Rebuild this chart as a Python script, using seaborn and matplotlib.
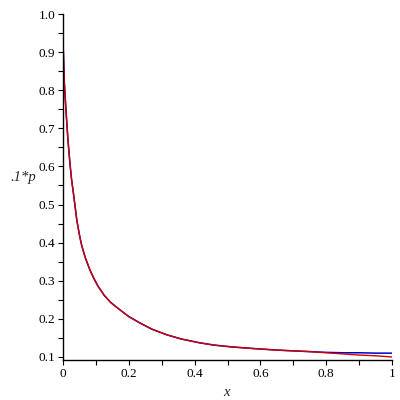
import numpy as np
import pandas as pd
import matplotlib
matplotlib.use("Agg")
import matplotlib.pyplot as plt
import seaborn as sns

# values
x_vals = [0.000, 0.004, 0.009, 0.015, 0.021, 0.026, 0.033, 0.042, 0.050, 0.057,
          0.068, 0.082, 0.095, 0.107, 0.125, 0.145, 0.168, 0.200, 0.234, 0.270,
          0.316, 0.360, 0.416, 0.460, 0.517, 0.580, 0.650, 0.700, 0.750, 0.800,
          0.850, 0.900, 0.950, 1.000]
blue_vals = [0.930, 0.820, 0.748, 0.670, 0.609, 0.566, 0.521, 0.459, 0.420, 0.392,
             0.360, 0.328, 0.304, 0.285, 0.262, 0.243, 0.227, 0.206, 0.189, 0.173,
             0.158, 0.147, 0.137, 0.131, 0.126, 0.122, 0.118, 0.116, 0.114, 0.112,
             0.111, 0.111, 0.110, 0.110]
red_vals = [0.930, 0.820, 0.748, 0.670, 0.609, 0.566, 0.521, 0.459, 0.420, 0.392,
            0.360, 0.328, 0.304, 0.285, 0.262, 0.243, 0.227, 0.206, 0.189, 0.173,
            0.158, 0.147, 0.137, 0.131, 0.126, 0.122, 0.118, 0.116, 0.114, 0.111,
            0.108, 0.105, 0.103, 0.100]

x_ticks = [0, 0.2, 0.4, 0.6, 0.8, 1.0]
x_ticklabels = ["0", "0.2", "0.4", "0.6", "0.8", "1"]
y_ticks = [0.1, 0.2, 0.3, 0.4, 0.5, 0.6, 0.7, 0.8, 0.9, 1.0]
y_ticklabels = ["0.1", "0.2", "0.3", "0.4", "0.5", "0.6", "0.7", "0.8", "0.9", "1.0"]

df = pd.DataFrame({"x": x_vals, "blue": blue_vals, "red": red_vals})

sns.set_style("ticks")
plt.rcParams['font.family'] = ['Liberation Serif', 'DejaVu Serif']

fig = plt.figure(figsize=(4, 4), dpi=100)
ax = fig.add_axes([0.1575, 0.10, 0.8225, 0.865])

sns.lineplot(data=df, x="x", y="blue", ax=ax, color="#0000c8", linewidth=1.1)
sns.lineplot(data=df, x="x", y="red", ax=ax, color="#d00000", linewidth=1.0)

ax.set_xlim(0, 1)
ax.set_ylim(0.092, 1.0)
ax.set_xticks(x_ticks)
ax.set_xticklabels(x_ticklabels)
ax.set_yticks(y_ticks)
ax.set_yticklabels(y_ticklabels)
ax.set_xticks([0.1, 0.3, 0.5, 0.7, 0.9], minor=True)
ax.set_yticks(np.arange(0.15, 1.0, 0.1), minor=True)
ax.tick_params(which="both", direction="out", length=3.5, width=0.8,
               labelsize=9.5, pad=2, colors="black")

for side in ["top", "right"]:
    ax.spines[side].set_visible(False)
for side in ["left", "bottom"]:
    ax.spines[side].set_linewidth(1.0)
    ax.spines[side].set_color("black")

ax.set_xlabel("x", fontstyle="italic", fontsize=10.5)
ax.set_ylabel(".1*p", fontstyle="italic", fontsize=10.5, rotation=0)
ax.xaxis.set_label_coords(0.498, -0.075)
ax.yaxis.set_label_coords(-0.12, 0.51)

fig.savefig("out.png", dpi=100)
